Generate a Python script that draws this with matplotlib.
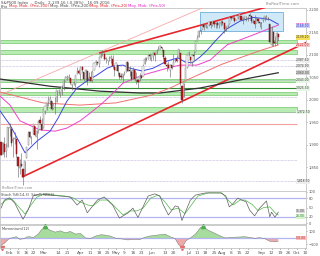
import numpy as np
import pandas as pd
import matplotlib
matplotlib.use('Agg')
import matplotlib.pyplot as plt
import matplotlib.transforms as mtransforms
from matplotlib.patches import Rectangle
from matplotlib.ticker import FuncFormatter

# trading calendar (S&P 500, daily)
holidays = ['2016-02-15', '2016-03-25', '2016-05-30', '2016-07-04', '2016-09-05']
cal = pd.bdate_range('2016-01-25', '2016-10-14')
cal = cal[~cal.isin(pd.to_datetime(holidays))]
first = list(cal).index(pd.Timestamp('2016-02-01'))
pos = np.arange(len(cal)) - first

opens = [1906.3, 1878.8, 1902.5, 1885.2, 1894.0,
         1936.9, 1935.3, 1907.1, 1911.7, 1913.1, 1873.3, 1848.5, 1857.1, 1847.0, 1833.4, 1871.4, 1898.8, 1927.6, 1916.7, 1924.4, 1942.4, 1917.6, 1931.9, 1955.0, 1947.1,
         1937.1, 1975.6, 1985.6, 1994.0, 1996.1, 1996.1, 1981.4, 1991.0, 1994.7, 2019.3, 2015.3, 2014.2, 2026.9, 2041.2, 2047.9, 2048.6, 2048.6, 2032.5, 2037.9, 2035.8, 2058.3, 2063.8,
         2056.6, 2073.2, 2062.5, 2045.6, 2063.0, 2045.5, 2050.2, 2043.7, 2065.9, 2082.9, 2083.1, 2078.8, 2096.1, 2101.5, 2102.1, 2091.5, 2089.4, 2089.8, 2092.6, 2090.9, 2071.8,
         2067.2, 2077.2, 2060.3, 2053.0, 2047.8, 2057.6, 2062.6, 2083.3, 2067.2, 2062.5, 2046.5, 2065.0, 2044.4, 2044.2, 2041.9, 2052.2, 2052.7, 2078.9, 2091.4, 2090.1, 2100.1,
         2093.9, 2097.7, 2104.1, 2100.8, 2110.2, 2112.7, 2115.7, 2109.6, 2091.8, 2076.7, 2077.6, 2065.7, 2078.2, 2075.6, 2085.2, 2089.8, 2092.8, 2103.8, 2031.5, 2006.7, 2042.7, 2073.2,
         2099.3, 2095.1, 2084.4, 2100.4, 2107.0, 2131.7, 2139.5, 2153.8, 2157.9, 2165.1, 2162.0, 2163.8, 2166.1, 2172.9, 2166.5, 2173.7, 2169.0, 2169.8, 2166.1, 2168.8,
         2173.2, 2169.9, 2156.8, 2163.5, 2168.8, 2183.8, 2182.2, 2182.8, 2178.0, 2183.7, 2186.1, 2186.2, 2177.8, 2181.9, 2184.2, 2181.6, 2187.8, 2185.1, 2173.3, 2175.1, 2170.2, 2179.5, 2173.6,
         2171.3, 2177.5, 2181.6, 2185.2, 2182.8, 2169.1, 2120.9, 2150.5, 2127.9, 2125.4, 2146.5]
highs = [1906.3, 1906.7, 1917.0, 1903.0, 1940.2,
         1947.2, 1935.3, 1918.0, 1927.4, 1913.1, 1873.3, 1868.3, 1881.6, 1847.0, 1864.8, 1895.8, 1930.7, 1930.0, 1918.8, 1946.7, 1942.4, 1932.1, 1951.8, 1963.0, 1958.3,
         1978.4, 1986.5, 1993.7, 2009.1, 2008.2, 1996.1, 1992.7, 2005.1, 2022.4, 2024.6, 2015.9, 2032.0, 2046.2, 2052.4, 2053.9, 2056.6, 2048.6, 2036.0, 2042.7, 2055.9, 2072.2, 2067.9,
         2075.1, 2074.0, 2062.5, 2067.3, 2063.0, 2060.6, 2062.9, 2065.1, 2083.2, 2087.8, 2083.2, 2094.7, 2104.1, 2111.1, 2103.8, 2094.3, 2089.4, 2096.9, 2099.9, 2099.3, 2073.9,
         2083.4, 2077.2, 2060.3, 2060.2, 2057.7, 2064.2, 2084.9, 2083.3, 2074.0, 2066.8, 2071.9, 2065.7, 2060.6, 2044.2, 2058.4, 2055.6, 2079.7, 2094.7, 2094.3, 2099.1, 2103.5,
         2101.0, 2105.3, 2104.1, 2113.4, 2119.2, 2120.6, 2117.6, 2109.6, 2098.1, 2081.3, 2085.7, 2079.6, 2078.2, 2100.7, 2093.7, 2099.7, 2113.3, 2103.8, 2031.5, 2036.1, 2073.1, 2098.9,
         2108.7, 2095.1, 2100.7, 2109.1, 2131.7, 2143.2, 2155.4, 2156.5, 2169.0, 2169.1, 2168.4, 2164.6, 2175.6, 2174.6, 2175.1, 2173.7, 2173.5, 2175.0, 2172.9, 2177.1,
         2178.3, 2170.2, 2163.8, 2168.2, 2182.9, 2185.4, 2187.7, 2183.4, 2188.5, 2186.3, 2193.8, 2186.2, 2183.1, 2187.0, 2185.0, 2185.2, 2193.4, 2186.7, 2179.0, 2187.9, 2183.5, 2182.3, 2173.8,
         2173.6, 2184.9, 2186.6, 2187.9, 2184.9, 2169.1, 2163.3, 2150.5, 2141.3, 2151.3, 2146.5]
lows = [1876.0, 1878.8, 1872.7, 1873.7, 1894.0,
        1920.0, 1897.3, 1872.7, 1900.5, 1872.7, 1828.5, 1834.9, 1850.3, 1810.1, 1833.4, 1871.4, 1898.8, 1915.1, 1902.2, 1924.4, 1919.4, 1891.0, 1925.4, 1945.8, 1931.8,
        1937.1, 1968.8, 1977.4, 1986.8, 1989.3, 1977.4, 1979.8, 1969.3, 1994.7, 2012.1, 2005.2, 2010.0, 2022.2, 2041.2, 2043.1, 2040.6, 2034.9, 2022.5, 2032.0, 2028.3, 2058.3, 2057.5,
        2044.0, 2062.6, 2042.6, 2043.1, 2033.8, 2041.7, 2041.9, 2039.7, 2065.9, 2078.1, 2076.3, 2073.7, 2091.7, 2096.3, 2088.5, 2081.2, 2077.5, 2085.8, 2082.3, 2071.6, 2052.3,
        2066.1, 2054.9, 2045.6, 2045.8, 2039.5, 2054.3, 2062.6, 2064.5, 2053.1, 2043.1, 2046.5, 2040.8, 2034.5, 2025.9, 2041.9, 2047.3, 2052.7, 2078.9, 2087.1, 2090.1, 2088.7,
        2085.1, 2088.6, 2085.4, 2100.8, 2110.2, 2112.7, 2107.7, 2090.0, 2078.5, 2064.1, 2069.8, 2050.4, 2068.1, 2075.6, 2083.0, 2084.4, 2092.8, 2032.6, 1991.7, 2006.7, 2042.7, 2070.0,
        2097.9, 2080.9, 2074.0, 2089.4, 2107.0, 2131.7, 2139.5, 2146.2, 2157.9, 2155.8, 2159.1, 2159.0, 2164.9, 2159.8, 2163.2, 2162.0, 2160.2, 2159.1, 2159.7, 2163.5,
        2166.2, 2147.6, 2152.7, 2159.1, 2168.8, 2177.9, 2178.6, 2172.0, 2178.0, 2179.4, 2186.1, 2178.1, 2168.5, 2180.5, 2175.1, 2176.0, 2186.8, 2171.3, 2169.7, 2160.4, 2170.2, 2170.4, 2161.4,
        2157.1, 2173.6, 2175.1, 2179.1, 2177.5, 2127.8, 2119.1, 2120.3, 2119.9, 2122.4, 2131.2]
closes = [1877.1, 1903.6, 1883.0, 1893.4, 1940.2,
          1939.4, 1903.0, 1912.5, 1915.5, 1880.1, 1853.4, 1852.2, 1851.9, 1829.1, 1864.8, 1895.6, 1926.8, 1917.8, 1917.8, 1945.5, 1921.3, 1929.8, 1951.7, 1948.1, 1932.2,
          1978.4, 1986.5, 1993.4, 2000.0, 2001.8, 1979.3, 1989.3, 1989.6, 2022.2, 2019.6, 2015.9, 2027.2, 2040.6, 2049.6, 2051.6, 2049.8, 2036.7, 2035.9, 2037.1, 2055.0, 2064.0, 2059.7,
          2072.8, 2066.1, 2045.2, 2066.7, 2041.9, 2047.6, 2042.0, 2061.7, 2082.4, 2082.8, 2080.7, 2094.3, 2100.8, 2102.4, 2091.5, 2091.6, 2087.8, 2091.7, 2095.2, 2075.8, 2065.3,
          2081.4, 2063.4, 2051.1, 2050.6, 2057.1, 2058.7, 2084.4, 2064.5, 2064.1, 2046.6, 2066.7, 2047.2, 2047.6, 2040.0, 2052.3, 2048.0, 2076.1, 2090.5, 2090.1, 2099.1, 2097.0,
          2099.3, 2105.3, 2099.1, 2109.4, 2112.1, 2119.1, 2115.5, 2096.1, 2079.1, 2075.3, 2071.5, 2078.0, 2071.2, 2083.3, 2088.9, 2085.5, 2113.3, 2037.4, 2000.5, 2036.1, 2070.8, 2098.9,
          2103.0, 2088.6, 2099.7, 2097.9, 2129.9, 2137.2, 2152.1, 2152.4, 2163.8, 2161.7, 2166.9, 2163.8, 2173.0, 2165.2, 2175.0, 2168.5, 2169.2, 2166.6, 2170.1, 2173.6,
          2170.8, 2157.0, 2163.8, 2164.3, 2182.9, 2180.9, 2181.7, 2175.5, 2185.8, 2184.1, 2190.2, 2178.2, 2182.2, 2187.0, 2183.9, 2182.6, 2186.9, 2175.4, 2172.5, 2169.0, 2180.4, 2176.1, 2171.0,
          2170.9, 2180.0, 2186.5, 2186.2, 2181.3, 2127.8, 2159.0, 2127.0, 2125.8, 2147.3, 2139.2]

# moving averages (trading-day index, price)
ma20_x = [-5.6, 0.3, 9.2, 16.3, 24, 28.7, 34, 39.9, 45.9, 51.8, 57.7, 61.2, 67.2, 71.3, 78.4, 84.9, 93.2, 99.7, 103.8, 108, 112.7, 116.9, 121.6, 128.7, 136.4, 144.1, 149.4, 154.1, 159]
ma20_y = [1975, 1944, 1882, 1908, 1930, 1959, 1997, 2026, 2042, 2055, 2070, 2075, 2077, 2070, 2064, 2070, 2086, 2093, 2084, 2082, 2095, 2110, 2130, 2158, 2175, 2183, 2181, 2178, 2168]
ma50_x = [-5.6, 0.3, 6.2, 18, 26.9, 34, 41.7, 47.6, 53.6, 59.5, 67.2, 79, 93.2, 100.9, 110.9, 118.6, 128.7, 144.1, 159]
ma50_y = [2008, 1988, 1953, 1933, 1930, 1937, 1953, 1970, 1988, 2008, 2037, 2055, 2070, 2077, 2077, 2088, 2122, 2144, 2166]
ma100_x = [-5.6, 6.2, 19.8, 41.7, 63, 83.7, 95, 105, 125.7, 148.8, 159]
ma100_y = [2017, 2006, 1993, 1988, 1993, 2010, 2026, 2044, 2079, 2110, 2122]
ma200_x = [-5.6, 24, 53.6, 77.2, 89, 112.7, 136.4, 159]
ma200_y = [2046, 2030, 2019, 2015, 2015, 2026, 2044, 2060]

# horizontal zones and levels
band_lo = [2126, 2102, 2039, 2010, 1973]
band_hi = [2132, 2110, 2046, 2017, 1984]
dotted_levels = [2087.6, 2074.9, 2043.0, 2005.5, 1972.5, 1866.0, 1818.5]
green_level = 2025.5
red_level = 1946.0

# stochastic
stk_x = [-5, -3, 0, 3, 8, 11, 14, 18, 24, 30, 36, 40, 43, 46, 52, 56, 61, 65, 70, 73, 76, 82, 86, 89, 91, 94, 98, 100, 102, 107, 110, 116, 125, 128, 130, 132, 135, 140, 142, 145, 148, 152, 154, 155, 157, 159]
stk_y = [48, 74, 81, 65, 12, 42, 87, 94, 90, 87, 84, 58, 74, 33, 74, 84, 58, 16, 32, 48, 18, 87, 94, 87, 58, 26, 55, 52, 8, 74, 90, 97, 97, 87, 52, 61, 80, 68, 42, 23, 48, 71, 20, 35, 19, 35]
std_x = [-5.6, -2, 1.5, 5, 9.2, 12.7, 16.3, 21, 26.9, 32.8, 37.6, 41.7, 46.4, 49.4, 53.6, 58.3, 62.4, 67.2, 71.3, 75.4, 79, 83.7, 87.9, 92, 95.6, 99.7, 103.8, 108, 111.5, 117.5, 125.7, 129.3, 132.2, 136.4, 139.3, 143.5, 147, 150.4, 154, 157.6, 159]
std_y = [58, 74, 77, 55, 29, 58, 84, 94, 90, 87, 81, 68, 58, 55, 74, 74, 52, 26, 39, 39, 48, 81, 90, 68, 42, 48, 30, 61, 87, 97, 97, 74, 58, 74, 74, 60, 40, 50, 52, 30, 26]

# momentum(12)
mom_x = [-5.6, -3, 0, 2, 4, 6, 9, 10, 12, 14, 17, 19, 21, 24, 27, 30, 33, 36, 39, 42, 45, 48, 51, 54, 56.5, 59.5, 63.6, 66.6, 70, 74, 77, 80, 83, 86, 89, 92, 95, 98, 100, 102, 104.5, 107, 110, 113, 114.5, 117.5, 121.6, 125.7, 128, 131.6, 136, 139, 142, 145, 148, 151, 154, 157, 159]
mom_y = [-125, -80, -5, 5, 20, -20, -10, 15, 20, 5, 60, 130, 170, 120, 90, 110, 80, 100, 60, 70, 0, -5, 30, 50, 45, 30, -10, -15, -30, -20, -25, 10, 30, 40, 50, 60, 20, -10, -100, -150, -40, 0, 60, 160, 170, 120, 70, 20, 0, 10, 15, 20, 10, -5, 5, -10, -50, -60, -50]

o = np.array(opens); h = np.array(highs); l = np.array(lows); c = np.array(closes)
x = pos[:len(c)]
XL = (-5.62, 175.4)

fig = plt.figure(figsize=(3.2, 2.56), dpi=100)
ax = fig.add_axes([0, 1 - 191 / 256, 306 / 320, 183 / 256])
axs = fig.add_axes([0, 1 - 224 / 256, 306 / 320, 33 / 256])
axm = fig.add_axes([0, 1 - 248 / 256, 306 / 320, 23 / 256])

for a in (ax, axs, axm):
    a.set_xlim(*XL)
    for s in a.spines.values():
        s.set_color('#c4c4c4')
        s.set_linewidth(0.6)
    a.yaxis.tick_right()
    a.tick_params(axis='y', labelsize=2.6, colors='#555555', length=1.0, width=0.4, pad=0.8)
    a.tick_params(axis='x', length=0)
    a.set_xticklabels([])

# ---------- main panel ----------
ax.set_ylim(1797, 2204)
ax.set_yticks(np.arange(1850, 2201, 50))
ax.yaxis.set_major_formatter(FuncFormatter(lambda v, p: f'{v:,.0f}'))
xe = (297 - 9.5) / 1.69
for lo_, hi_ in zip(band_lo, band_hi):
    ax.add_patch(Rectangle((XL[0], lo_), xe - XL[0], hi_ - lo_, fc='#b9ecb3', ec='#72c86a', lw=0.5, zorder=1))
ax.hlines(dotted_levels, XL[0], xe, colors='#b9a6d8', lw=0.5, linestyles=(0, (1, 1)), zorder=1)
ax.hlines(green_level, XL[0], xe, colors='#2e8b2e', lw=0.8, zorder=2)
ax.hlines(red_level, XL[0], xe, colors='#f4a0a0', lw=0.8, zorder=2)

# trend lines
ax.plot([-5.6, 113.9], [2010.7, 2203.8], color='#f6a8a8', lw=0.6, zorder=3)
ax.plot([53.5, 152], [2104, 2206], color='#e8262c', lw=1.2, zorder=3)
ax.plot([8, 175.4], [1829, 2127], color='#e8262c', lw=1.2, zorder=3)

# consolidation box
ax.add_patch(Rectangle((112.7, 2153), 49.1, 42, fc='#cfe9f8', ec='#6ab0dc', lw=0.6, zorder=2))

ax.plot(ma200_x, ma200_y, color='#303030', lw=0.9, zorder=4)
ax.plot(ma100_x, ma100_y, color='#f07070', lw=0.7, zorder=4)
ax.plot(ma50_x, ma50_y, color='#f040c8', lw=0.7, zorder=4)
ax.plot(ma20_x, ma20_y, color='#3c46e0', lw=0.7, zorder=4)

up = c >= o
ax.vlines(x, l, h, color='#6e6e6e', lw=0.45, zorder=5)
ax.bar(x[up], np.maximum(c[up] - o[up], 0.8), bottom=o[up], width=0.7, color='white',
       edgecolor='#8a8a8a', lw=0.35, zorder=6)
ax.bar(x[~up], np.maximum(o[~up] - c[~up], 0.8), bottom=c[~up], width=0.7, color='#c4161c',
       edgecolor='#6a1a1a', lw=0.35, zorder=6)

trans = mtransforms.blended_transform_factory(ax.transAxes, ax.transData)


def level_label(a, tr, y, txt, fc, tc='#333333'):
    a.text(0.968, y, txt, transform=tr, fontsize=2.2, color=tc, va='center', ha='left',
           bbox=dict(boxstyle='square,pad=0.12', fc=fc, ec='none'), clip_on=False, zorder=9)


level_label(ax, trans, ma50_y[-1], f'{ma50_y[-1]:,.2f}', '#f6c8ee', '#c0189a')
level_label(ax, trans, ma20_y[-1] - 4, f'{ma20_y[-1]:,.2f}', '#cfd2f8', '#2c36c0')
level_label(ax, trans, c[-1], f'{c[-1]:,.2f}', '#f6e05a', '#333333')
level_label(ax, trans, ma100_y[-1], f'{ma100_y[-1]:,.2f}', '#f8c8c8', '#c02020')
level_label(ax, trans, dotted_levels[0], f'{dotted_levels[0]:,.2f}', '#eeeeee')
level_label(ax, trans, dotted_levels[1], f'{dotted_levels[1]:,.2f}', '#eeeeee')
level_label(ax, trans, ma200_y[-1], f'{ma200_y[-1]:,.2f}', '#d8d8d8')
level_label(ax, trans, dotted_levels[2], f'{dotted_levels[2]:,.2f}', '#e6f6e4')
level_label(ax, trans, green_level, f'{green_level:,.2f}', '#e6f6e4')
level_label(ax, trans, dotted_levels[4], f'{dotted_levels[4]:,.2f}', '#e6f6e4')
level_label(ax, trans, dotted_levels[6], f'{dotted_levels[6]:,.2f}', '#eeeeee')
ax.text(0.004, 0.012, 'ProRealTime.com', transform=ax.transAxes, fontsize=2.6, color='#8a8a8a')

# ---------- stochastic ----------
axs.set_ylim(-3.2, 103.2)
axs.set_yticks([0, 20, 50, 80, 100])
axs.axhline(80, color='#b4b4f0', lw=0.9)
axs.axhline(20, color='#b4b4f0', lw=0.9)
axs.plot(std_x, std_y, color='#52b848', lw=0.5)
axs.plot(stk_x, stk_y, color='#606060', lw=0.5)
axs.text(0.004, 0.86, 'Stoch %K(14,3)  Stoch %D(3)', transform=axs.transAxes, fontsize=2.6, color='#444444')
ts = mtransforms.blended_transform_factory(axs.transAxes, axs.transData)
level_label(axs, ts, stk_y[-1] + 4, f'{stk_y[-1]:.2f}', '#dddddd')
level_label(axs, ts, std_y[-1] - 5, f'{std_y[-1]:.2f}', '#d6f0d0', '#2e8b2e')

# ---------- momentum ----------
axm.set_ylim(-154, 200)
axm.set_yticks([-100, 100])
axm.axhline(0, color='#b4b4f0', lw=0.9)
mx = np.array(mom_x); my = np.array(mom_y)
axm.fill_between(mx, my, 0, where=my >= 0, interpolate=True, color='#a6dc9c', lw=0)
axm.fill_between(mx, my, 0, where=my <= 0, interpolate=True, color='#eeaaaa', lw=0)
axm.plot(mx, my, color='#777777', lw=0.35)
axm.text(0.004, 0.78, 'Momentum(12)', transform=axm.transAxes, fontsize=2.6, color='#444444')
axm.plot([21, 114.5], [192, 192], ls='none', marker='^', ms=3, color='#4caf50', clip_on=False)
axm.plot([-4.4, 102], [-148, -148], ls='none', marker='v', ms=3, color='#e07070', clip_on=False)
tm = mtransforms.blended_transform_factory(axm.transAxes, axm.transData)
level_label(axm, tm, 0, f'{mom_y[-1]:.2f}', '#f4c0c0', '#c02020')

# weekly ticks with month names
ticks, labels, kinds = [], [], []
for i in range(1, len(cal)):
    d, prev = cal[i], cal[i - 1]
    if d.month != prev.month:
        ticks.append(pos[i]); labels.append(d.strftime('%b')); kinds.append('m')
    elif d.isocalendar()[1] != prev.isocalendar()[1]:
        ticks.append(pos[i]); labels.append(str(d.day)); kinds.append('w')
mt = [t for t, k in zip(ticks, kinds) if k == 'm']
keep = [(t, s) for t, s, k in zip(ticks, labels, kinds)
        if t > -3 and (k == 'm' or min(abs(t - m) for m in mt) > 4)]
axm.set_xticks([t for t, s in keep])
axm.set_xticklabels([s for t, s in keep], fontsize=3.1, color='#555555')
axm.tick_params(axis='x', length=1, width=0.4, pad=1)

# header
fig.text(0.004, 1 - 3 / 256, 'S&P500 Index  -  Daily   2,139.16 (-0.38%)   16.09.2016', fontsize=2.8,
         color='#444444', va='center')
entries = [('Prix', '#444444', 1), ('Moy. Mob. (Prix,100)', '#e02020', 9), ('Moy. Mob. (Prix,200)', '#444444', 50),
           ('Moy. Mob. (Prix,20)', '#e02020', 90), ('Moy. Mob. (Prix,50)', '#e020c0', 128)]
for txt, col, px in entries:
    fig.text(px / 320, 1 - 6.5 / 256, txt, fontsize=2.8, color=col, va='center')
fig.text(300 / 320, 1 - 4 / 256, 'ProRealTime.com', fontsize=2.8, color='#888888', va='center', ha='right')

fig.savefig('out.png', dpi=100)
